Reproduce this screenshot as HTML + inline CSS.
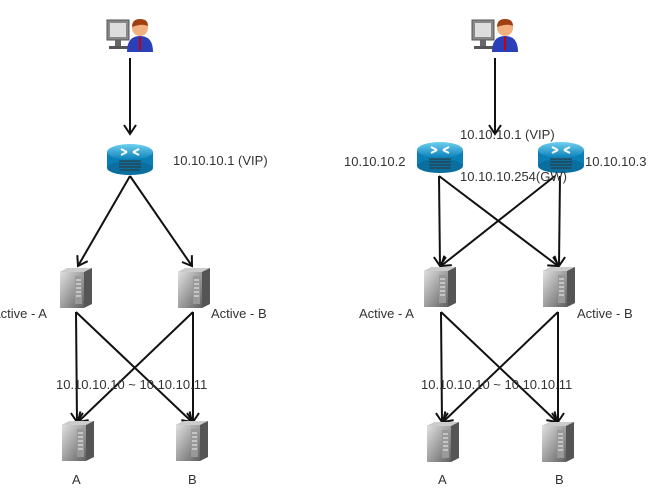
<!DOCTYPE html>
<html><head><meta charset="utf-8"><style>
html,body{margin:0;padding:0;background:#fff;}
svg{display:block;}
text{font-family:"Liberation Sans","DejaVu Sans",sans-serif;font-size:13px;fill:#333;}
</style></head><body>
<svg width="665" height="500" viewBox="0 0 665 500" xmlns="http://www.w3.org/2000/svg">
<defs>
<marker id="ah" markerWidth="14" markerHeight="14" refX="11" refY="7" orient="auto" markerUnits="userSpaceOnUse" viewBox="0 0 14 14">
<path d="M2,1 L11,7 L2,13" fill="none" stroke="#111" stroke-width="2"/>
</marker>
<linearGradient id="sg" x1="0" x2="1" y1="0" y2="1"><stop offset="0" stop-color="#e0e0e0"/><stop offset="1" stop-color="#606060"/></linearGradient>
<linearGradient id="rg" x1="0" x2="0" y1="0" y2="1"><stop offset="0" stop-color="#6fd0f0"/><stop offset="1" stop-color="#0a80b8"/></linearGradient>
<g id="srv">
<path d="M0,4 L8,0 L32,0 L32,36 L24,40 L0,40 Z" fill="#555"/>
<rect x="0" y="4" width="24" height="36" fill="url(#sg)"/>
<path d="M0,4 L8,0 L32,0 L24,4 Z" fill="#ccc"/>
<rect x="15" y="8" width="7" height="28" fill="#999"/>
<path d="M16,12h5M16,16h5M16,20h5M16,24h5M16,28h5" stroke="#eee" stroke-width="1"/>
</g>
<g id="rtr">
<rect x="0" y="8" width="46" height="16" fill="#0a7fb5"/>
<ellipse cx="23" cy="24" rx="23" ry="7" fill="#0a6f9f"/>
<ellipse cx="23" cy="8" rx="23" ry="8" fill="url(#rg)"/>
<path d="M12,17h22M12,20h22M12,23h22M13,26h20" stroke="#333" stroke-width="1"/>
<path d="M14,5l6,3M32,5l-6,3M14,11l6,-3M32,11l-6,-3" stroke="#fff" stroke-width="2"/>
</g>
<g id="usr">
<rect x="0" y="4" width="22" height="20" fill="#888" stroke="#555"/>
<rect x="3" y="7" width="16" height="14" fill="#ddd"/>
<rect x="8" y="24" width="6" height="6" fill="#666"/>
<rect x="2" y="30" width="20" height="3" fill="#555"/>
<path d="M20,36 Q20,20 33,20 Q46,20 46,36 Z" fill="#2b3fb8"/>
<path d="M32,21 L34,21 L34,34 L32,34 Z" fill="#c00"/>
<circle cx="33" cy="12" r="8" fill="#f0b080"/>
<path d="M25,11 Q25,3 33,3 Q41,3 41,10 Q35,7 25,11 Z" fill="#a04010"/>
</g>
</defs>

<g stroke="#111" stroke-width="2" fill="none">
<line x1="130" y1="58" x2="130" y2="134" marker-end="url(#ah)"/>
<line x1="130" y1="176" x2="78" y2="266" marker-end="url(#ah)"/>
<line x1="130" y1="176" x2="192" y2="266" marker-end="url(#ah)"/>
<line x1="76" y1="312" x2="77" y2="422" marker-end="url(#ah)"/>
<line x1="76" y1="312" x2="192" y2="422" marker-end="url(#ah)"/>
<line x1="193" y1="312" x2="193" y2="422" marker-end="url(#ah)"/>
<line x1="193" y1="312" x2="78" y2="422" marker-end="url(#ah)"/>

<line x1="495" y1="58" x2="495" y2="134" marker-end="url(#ah)"/>
<line x1="439" y1="176" x2="440" y2="266" marker-end="url(#ah)"/>
<line x1="439" y1="176" x2="558" y2="266" marker-end="url(#ah)"/>
<line x1="560" y1="176" x2="559" y2="266" marker-end="url(#ah)"/>
<line x1="555" y1="176" x2="441" y2="266" marker-end="url(#ah)"/>
<line x1="441" y1="312" x2="442" y2="422" marker-end="url(#ah)"/>
<line x1="441" y1="312" x2="557" y2="422" marker-end="url(#ah)"/>
<line x1="558" y1="312" x2="558" y2="422" marker-end="url(#ah)"/>
<line x1="558" y1="312" x2="443" y2="422" marker-end="url(#ah)"/>
</g>

<use href="#usr" x="107" y="16"/>
<use href="#usr" x="472" y="16"/>
<use href="#rtr" x="107" y="144"/>
<use href="#rtr" x="417" y="142"/>
<use href="#rtr" x="538" y="142"/>

<use href="#srv" x="60" y="268"/>
<use href="#srv" x="178" y="268"/>
<use href="#srv" x="62" y="421"/>
<use href="#srv" x="176" y="421"/>
<use href="#srv" x="424" y="267"/>
<use href="#srv" x="543" y="267"/>
<use href="#srv" x="427" y="422"/>
<use href="#srv" x="542" y="422"/>

<text x="173" y="165">10.10.10.1 (VIP)</text>
<text x="-8" y="318">Active - A</text>
<text x="211" y="318">Active - B</text>
<text x="56" y="389">10.10.10.10 ~ 10.10.10.11</text>
<text x="72" y="484">A</text>
<text x="188" y="484">B</text>

<text x="460" y="139">10.10.10.1 (VIP)</text>
<text x="344" y="166">10.10.10.2</text>
<text x="585" y="166">10.10.10.3</text>
<text x="460" y="181">10.10.10.254(GW)</text>
<text x="359" y="318">Active - A</text>
<text x="577" y="318">Active - B</text>
<text x="421" y="389">10.10.10.10 ~ 10.10.10.11</text>
<text x="438" y="484">A</text>
<text x="555" y="484">B</text>
</svg>
</body></html>
